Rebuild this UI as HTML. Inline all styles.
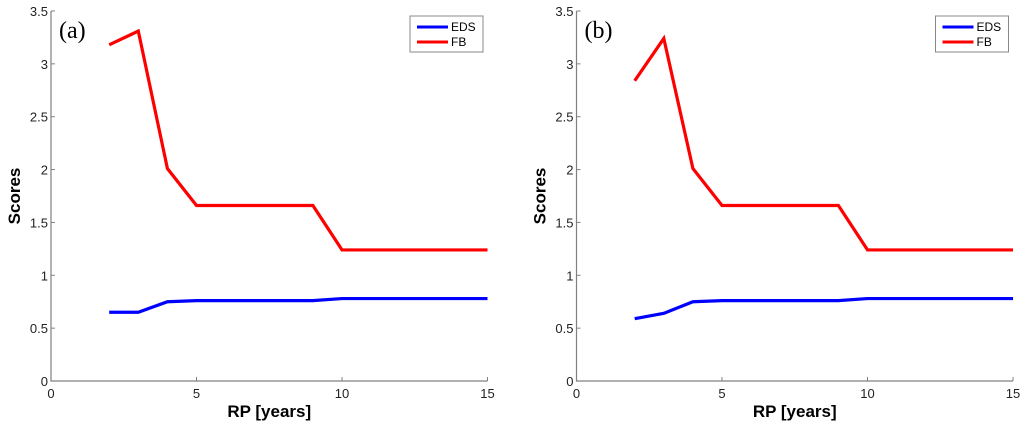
<!DOCTYPE html>
<html><head><meta charset="utf-8"><style>
body{margin:0;background:#fff;width:1024px;height:426px;overflow:hidden}
svg{font-family:"Liberation Sans",sans-serif}
</style></head><body>
<svg id="c" width="1024" height="426"></svg>
<script>
const years=[2,3,4,5,6,7,8,9,10,11,12,13,14,15];
const fbA=[3.18,3.31,2.01,1.66,1.66,1.66,1.66,1.66,1.24,1.24,1.24,1.24,1.24,1.24];
const edsA=[0.65,0.65,0.75,0.76,0.76,0.76,0.76,0.76,0.78,0.78,0.78,0.78,0.78,0.78];
const fbB=[2.84,3.24,2.01,1.66,1.66,1.66,1.66,1.66,1.24,1.24,1.24,1.24,1.24,1.24];
const edsB=[0.59,0.64,0.75,0.76,0.76,0.76,0.76,0.76,0.78,0.78,0.78,0.78,0.78,0.78];
const xTicks=[0,5,10,15];
const yTicks=[0,0.5,1,1.5,2,2.5,3,3.5];
const yTickLabels=["0","0.5","1","1.5","2","2.5","3","3.5"];
const svg=document.getElementById('c');
const NS='http://www.w3.org/2000/svg';
function mk(t,a,p){const e=document.createElementNS(NS,t);for(const k in a)e.setAttribute(k,a[k]);(p||svg).appendChild(e);return e;}
function panel(x0,label,fb,eds,id){
  const g=mk('g',{});
  
  
  const X=v=>x0+v*(436.5/15), Y=v=>381-v*(370/3.5);
  const ax=mk('path',{d:`M${X(0)},${Y(3.5)}V${Y(0)}H${X(15)}`,stroke:'#808080',fill:'none','stroke-width':1.2},g);
  
  
  yTicks.forEach((v,i)=>{
    mk('line',{x1:X(0),x2:X(0)+4,y1:Y(v),y2:Y(v),stroke:'#808080'},g);
    const t=mk('text',{x:X(0)-3,y:Y(v)+5,'text-anchor':'end','font-size':13,fill:'#222'},g);
    t.textContent=yTickLabels[i];
    
    
  });
  xTicks.forEach(v=>{
    mk('line',{x1:X(v),x2:X(v),y1:Y(0),y2:Y(0)-4,stroke:'#808080'},g);
    const t=mk('text',{x:X(v),y:398,'text-anchor':'middle','font-size':13,fill:'#222'},g);
    t.textContent=v;
    
    
  });
  const pts=a=>a.map((v,i)=>X(years[i])+','+Y(v)).join(' ');
  const l1=mk('polyline',{points:pts(eds),stroke:'#0000ff',fill:'none','stroke-width':3.2},g);
  
  
  const l2=mk('polyline',{points:pts(fb),stroke:'#ff0000',fill:'none','stroke-width':3.2},g);
  
  
  const pl=mk('text',{x:X(0)+8,y:38,'font-size':24,'font-family':'Liberation Serif,serif',fill:'#000'},g);
  pl.textContent=label;
  
  
  const yt=mk('text',{transform:`translate(${x0-31},196) rotate(-90)`,'text-anchor':'middle','font-size':17,'font-weight':'bold'},g);
  yt.textContent='Scores';
  
  
  const xt=mk('text',{x:X(7.5),y:417,'text-anchor':'middle','font-size':17,'font-weight':'bold'},g);
  xt.textContent='RP [years]';
  
  
  const lg=mk('g',{},g);
  
  
  const lx=x0+359;
  mk('rect',{x:lx,y:16,width:73,height:36,fill:'#fff',stroke:'#888'},lg);
  [['EDS','#0000ff',27],['FB','#ff0000',42]].forEach(([n,c,y])=>{
    mk('line',{x1:lx+7,x2:lx+38,y1:y,y2:y,stroke:c,'stroke-width':3},lg);
    const t=mk('text',{x:lx+41,y:y+4,'font-size':12},lg);
    t.textContent=n;
    
    
  });
}
panel(51,'(a)',fbA,edsA,'a');
panel(576.5,'(b)',fbB,edsB,'b');
</script>
</body></html>
